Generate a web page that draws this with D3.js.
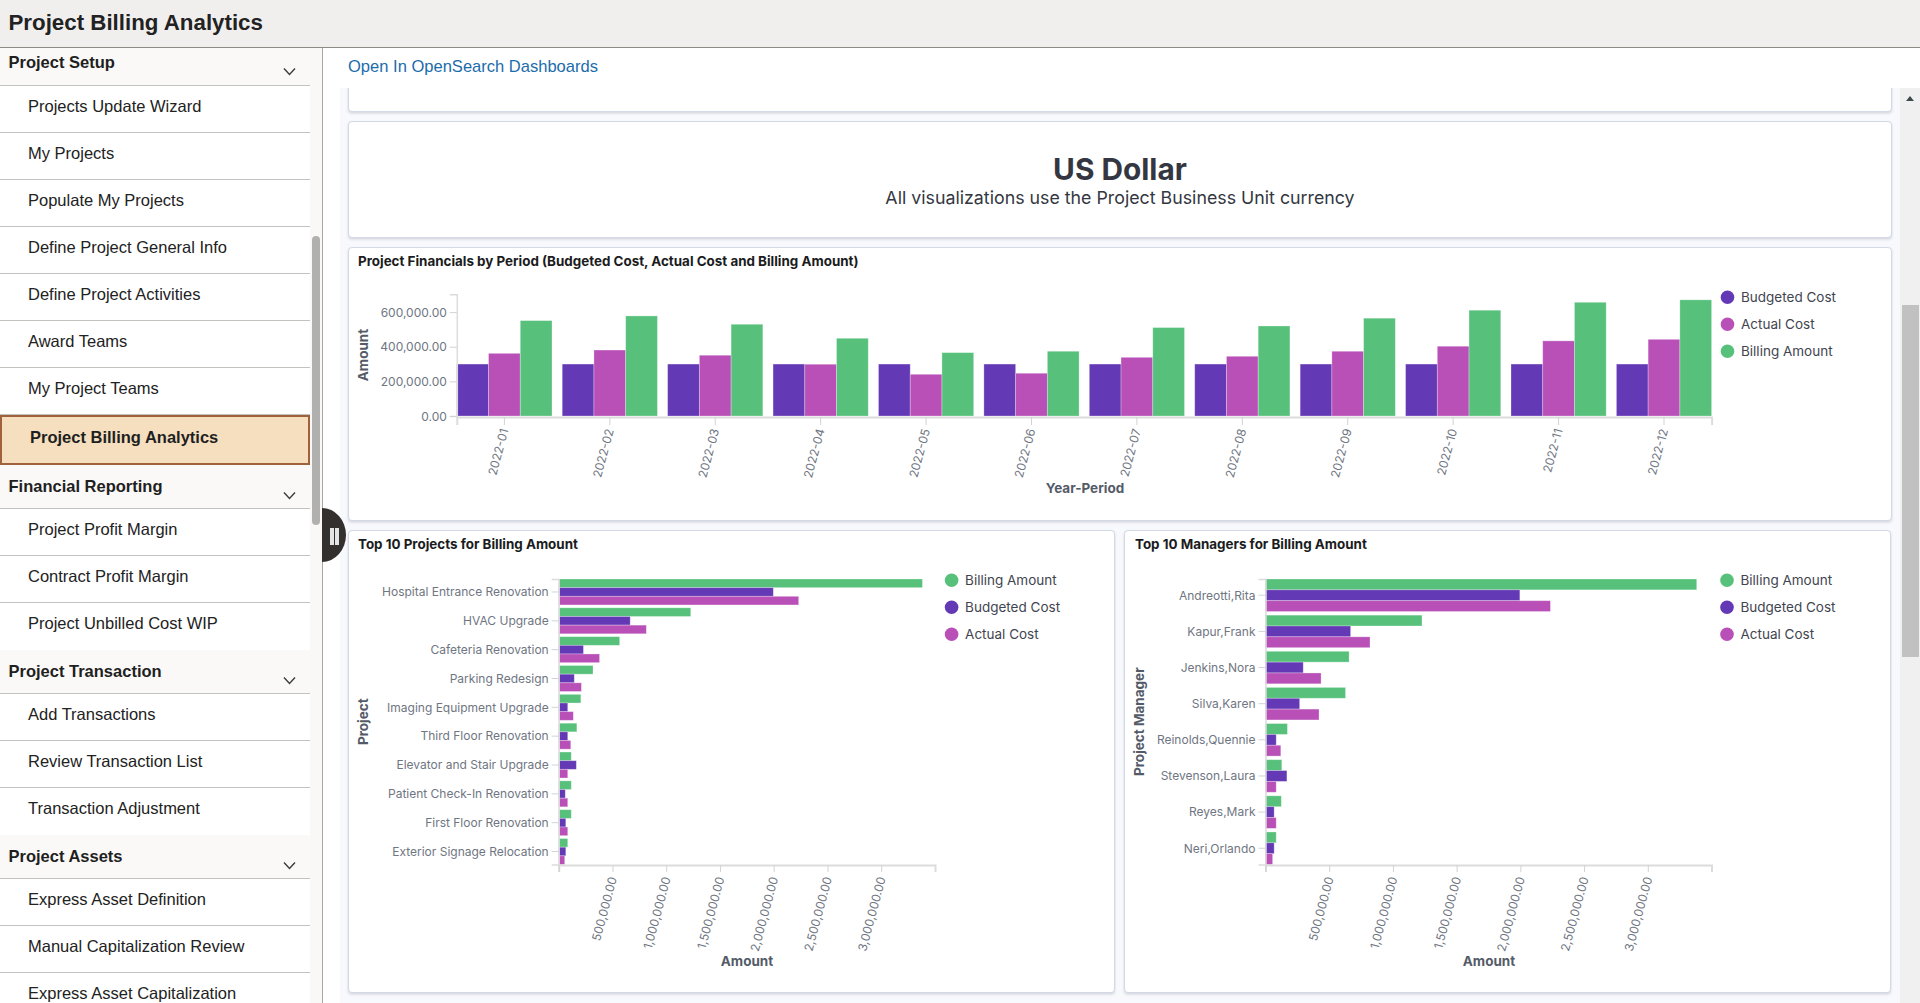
<!DOCTYPE html>
<html>
<head>
<meta charset="utf-8">
<title>Project Billing Analytics</title>
<script src="https://cdnjs.cloudflare.com/ajax/libs/d3/7.8.5/d3.min.js"></script>
<style>
*{box-sizing:border-box}
html,body{margin:0;padding:0;width:1920px;height:1003px;overflow:hidden;background:#fff;font-family:"Liberation Sans",Arial,sans-serif}
#header{position:absolute;left:0;top:0;width:1920px;height:48px;background:#f0efee;border-bottom:1px solid #8c8b86;font-weight:700;font-size:22.3px;line-height:45px;padding-left:8.5px;color:#222}
#track{position:absolute;left:310px;top:48px;width:12px;height:955px;background:#f9f8f6}
#nav{position:absolute;left:0;top:48px;width:310px;height:955px;overflow:hidden;background:#fff}
.sec{height:44px;background:#faf9f7;border-bottom:1px solid #c4c2bf;font-weight:700;font-size:16.5px;padding:12px 0 0 8.5px;color:#1f1f1f;position:relative}
.sec.first{height:38px;padding-top:5px}
.sec svg{position:absolute;left:282px;top:26px}
.sec.first svg{top:19px}
.item{height:47px;border-bottom:1px solid #c4c2bf;font-size:16.5px;padding:11px 0 0 28px;color:#222}
.item.last{border-bottom:none}
.item.sel{height:50px;background:#f5dfbf;border:2px solid #a0623c;font-weight:700;padding:11px 0 0 28px;color:#1f1f1f}
#navRule{position:absolute;left:322px;top:48px;width:1px;height:955px;background:#a9a7a3;z-index:3}
#navThumb{position:absolute;left:312px;top:236px;width:8px;height:289px;background:#b0b0ae;border-radius:4px}
#toggle{position:absolute;left:322px;top:508px;width:24px;height:54px;background:#33302e;border-radius:0 24px 24px 0 / 0 27px 27px 0;z-index:4}
#toggle i{position:absolute;top:19.5px;width:3.5px;height:17.5px;background:#e4e4e4}
#link{position:absolute;left:348px;top:57px;font-size:16.55px;color:#1b6cab;z-index:2}
#content{position:absolute;left:340px;top:88px;width:1560px;height:915px;background:#f8f9fc}
#sb{position:absolute;left:1900px;top:88px;width:20px;height:915px;background:#f0f0f0}
#sbThumb{position:absolute;left:1902px;top:305px;width:17px;height:352px;background:#c1c1c1}
#sbArrow{position:absolute;left:1906px;top:96px;width:0;height:0;border-left:4.5px solid transparent;border-right:4.5px solid transparent;border-bottom:5px solid #3d4a4a}
.panel{position:absolute;background:#fff;border:1px solid #d3dae6;border-radius:4px;box-shadow:0 1px 2px rgba(152,162,179,.25),0 2px 3px rgba(152,162,179,.18)}
#chart{position:absolute;left:0;top:0;pointer-events:none}
#chart text{font-family:Inter,sans-serif}
</style>
</head>
<body>
<div id="header">Project Billing Analytics</div>
<div id="track"></div>
<div id="nav"></div>
<div id="navRule"></div>
<div id="navThumb"></div>
<div id="toggle"><i style="left:8px"></i><i style="left:13.2px"></i></div>
<div id="link">Open In OpenSearch Dashboards</div>
<div id="content"></div>
<div id="sb"></div><div id="sbThumb"></div><div id="sbArrow"></div>
<div id="panels"></div>
<svg id="chart" width="1920" height="1003"></svg>
<script>
// ---------- data ----------
const navSections = ["Project Setup","Financial Reporting","Project Transaction","Project Assets"];
const navSetup = ["Projects Update Wizard","My Projects","Populate My Projects","Define Project General Info","Define Project Activities","Award Teams","My Project Teams","Project Billing Analytics"];
const navReporting = ["Project Profit Margin","Contract Profit Margin","Project Unbilled Cost WIP"];
const navTransaction = ["Add Transactions","Review Transaction List","Transaction Adjustment"];
const navAssets = ["Express Asset Definition","Manual Capitalization Review","Express Asset Capitalization"];

const periods = ["2022-01","2022-02","2022-03","2022-04","2022-05","2022-06","2022-07","2022-08","2022-09","2022-10","2022-11","2022-12"];
const periodBudgeted = [300000,300000,300000,300000,300000,300000,300000,300000,300000,300000,300000,300000];
const periodActual   = [362000,381000,351000,299000,241000,247000,339000,345000,374000,403000,434000,443000];
const periodBilling  = [551000,578000,530000,449000,366000,374000,511000,520000,565000,611000,657000,671000];
const periodTicks = [0,200000,400000,600000];

const projects = ["Hospital Entrance Renovation","HVAC Upgrade","Cafeteria Renovation","Parking Redesign","Imaging Equipment Upgrade","Third Floor Renovation","Elevator and Stair Upgrade","Patient Check-In Renovation","First Floor Renovation","Exterior Signage Relocation"];
const projectBilling  = [3383000,1228000,567000,319000,206000,169000,117000,117000,117000,84000];
const projectBudgeted = [1996000,665000,230000,145000,84000,84000,164000,61000,66000,66000];
const projectActual   = [2232000,815000,380000,211000,136000,112000,84000,84000,84000,56000];

const managers = ["Andreotti,Rita","Kapur,Frank","Jenkins,Nora","Silva,Karen","Reinolds,Quennie","Stevenson,Laura","Reyes,Mark","Neri,Orlando"];
const managerBilling  = [3384000,1228000,656000,628000,172000,128000,124000,84000];
const managerBudgeted = [1996000,668000,296000,268000,84000,168000,68000,68000];
const managerActual   = [2236000,820000,436000,420000,120000,84000,84000,56000];

const amountTicks = [0,500000,1000000,1500000,2000000,2500000,3000000];
const purple="#6439b5", magenta="#b950b8", green="#57c17b";
const inkAxis="#dcdcdc", inkTick="#d2d3d6", inkLabel="#6f7682", inkTitle="#545b68", inkLegend="#3f4550", inkHead="#1a1c21";

// ---------- side navigation ----------
const nav=d3.select("#nav");
const chevron='<svg width="15" height="9" viewBox="0 0 15 9"><path d="M2 1.5 L7.5 7.5 L13 1.5" fill="none" stroke="#3c3c3c" stroke-width="1.4"/></svg>';
function navGroup(title,items,first){
  nav.append("div").attr("class","sec"+(first?" first":"")).html(title+chevron);
  items.forEach((t,i)=>{
    const selected=t==="Project Billing Analytics";
    nav.append("div").attr("class","item"+(selected?" sel":"")+(i===items.length-1&&!selected?" last":"")).text(t);
  });
}
navGroup(navSections[0],navSetup,true);
navGroup(navSections[1],navReporting);
navGroup(navSections[2],navTransaction);
navGroup(navSections[3],navAssets);

// ---------- panels ----------
const panelBoxes=[[348,60,1544,52],[348,121,1544,117],[348,247,1544,274],[348,530,767,463],[1124,530,767,463]];
d3.select("#panels").selectAll("div").data(panelBoxes).join("div").attr("class","panel")
  .style("left",d=>d[0]+"px").style("top",d=>d[1]+"px").style("width",d=>d[2]+"px").style("height",d=>d[3]+"px");
// the cut-off panel is hidden under the top strip
d3.select("#panels").append("div").style("position","absolute").style("left","340px").style("top","48px").style("width","1560px").style("height","40px").style("background","#fff");

const svg=d3.select("#chart");
const txt=(x,y,s,size,weight,fill,anchor,rot)=>{
  const t=svg.append("text").attr("x",x).attr("y",y).attr("dy",".35em").text(s)
    .attr("font-size",size).attr("font-weight",weight).attr("fill",fill).attr("text-anchor",anchor||"start");
  if(rot) t.attr("transform",`rotate(${rot} ${x} ${y})`);
  return t;
};
txt(1120,169.5,"US Dollar",29.8,700,"#343741","middle");
txt(1120,198,"All visualizations use the Project Business Unit currency",17.8,400,"#343741","middle");
txt(358,261,"Project Financials by Period (Budgeted Cost, Actual Cost and Billing Amount)",13.4,700,inkHead);
txt(358,544,"Top 10 Projects for Billing Amount",13.4,700,inkHead);
txt(1135,544,"Top 10 Managers for Billing Amount",13.4,700,inkHead);

function legend(x,entries,y0){
  entries.forEach((e,i)=>{
    const y=y0+i*27;
    svg.append("circle").attr("cx",x).attr("cy",y).attr("r",6.8).attr("fill",e[1]);
    txt(x+13.5,y,e[0],13.5,400,inkLegend);
  });
}
function styleAxis(g,domainWidth){
  g.select(".domain").attr("stroke",inkAxis).attr("stroke-width",domainWidth);
  g.selectAll(".tick line").attr("stroke",inkTick);
  g.selectAll("text").attr("fill",inkLabel).attr("font-size",12);
}
function rotateLabels(g){
  g.selectAll(".tick text").attr("x",0).attr("y",0).attr("dy",".35em").attr("text-anchor","end")
    .attr("transform","translate(0,12) rotate(-75)").attr("font-size",12);
}
function barEdges(sel){
  return sel.attr("stroke","#fff").attr("stroke-opacity",.35).attr("stroke-width",.8);
}

// ---------- period chart ----------
(function(){
  const x=d3.scaleBand().domain(periods).range([456.8,1711.6]).paddingInner(0.097).paddingOuter(0);
  const y=d3.scaleLinear().domain([0,703000]).range([416,294.3]);
  const sub=d3.scaleBand().domain([0,1,2]).range([0,x.bandwidth()]);
  const series=[[periodBudgeted,purple],[periodActual,magenta],[periodBilling,green]];
  series.forEach((s,i)=>{
    barEdges(svg.append("g").selectAll("rect").data(periods).join("rect")
      .attr("x",d=>x(d)+sub(i)).attr("width",sub.bandwidth())
      .attr("y",(d,k)=>y(s[0][k])).attr("height",(d,k)=>y(0)-y(s[0][k])).attr("fill",s[1]));
  });
  const ay=svg.append("g").attr("transform","translate(456.8,0)").call(d3.axisLeft(y).tickValues(periodTicks).tickFormat(d3.format(",.2f")).tickSize(7));
  styleAxis(ay,1.5);
  ay.selectAll("text").attr("dy",".35em");
  const ax=svg.append("g").attr("transform","translate(0,417)").call(d3.axisBottom(x).tickSize(8));
  styleAxis(ax,2); rotateLabels(ax);
  txt(363,355,"Amount",13.5,700,inkTitle,"middle",-90);
  txt(1085,488,"Year-Period",13.5,700,inkTitle,"middle");
  legend(1727.5,[["Budgeted Cost",purple],["Actual Cost",magenta],["Billing Amount",green]],297.3);
})();

// ---------- top-10 charts ----------
function topChart(cats,billing,budgeted,actual,x0,x1,axisTitle,titleX,amountX,legendX){
  const y=d3.scaleBand().domain(cats).range([579,864.5]).paddingInner(0.1).paddingOuter(0);
  const x=d3.scaleLinear().domain([0,3500000]).range([x0,x1]);
  const sub=d3.scaleBand().domain([0,1,2]).range([0,y.bandwidth()]);
  [[billing,green],[budgeted,purple],[actual,magenta]].forEach((s,i)=>{
    barEdges(svg.append("g").selectAll("rect").data(cats).join("rect")
      .attr("x",x0).attr("y",d=>y(d)+sub(i)).attr("height",sub.bandwidth())
      .attr("width",(d,k)=>x(s[0][k])-x0).attr("fill",s[1]));
  });
  const ay=svg.append("g").attr("transform",`translate(${x0},0)`).call(d3.axisLeft(y).tickSize(7));
  styleAxis(ay,1.5);
  ay.selectAll("text").attr("x",-10).attr("dy",".36em");
  const ax=svg.append("g").attr("transform","translate(0,865)").call(d3.axisBottom(x).tickValues(amountTicks).tickFormat(d=>d===0?"":d3.format(",.2f")(d)).tickSize(7));
  styleAxis(ax,2); rotateLabels(ax);
  txt(titleX,721.7,axisTitle,13.5,700,inkTitle,"middle",-90);
  txt(amountX,961,"Amount",13.5,700,inkTitle,"middle");
  legend(legendX,[["Billing Amount",green],["Budgeted Cost",purple],["Actual Cost",magenta]],580.3);
}
topChart(projects,projectBilling,projectBudgeted,projectActual,558.7,935,"Project",363.5,747,951.6);
topChart(managers,managerBilling,managerBudgeted,managerActual,1265.5,1711.5,"Project Manager",1139.5,1489,1727);
</script>
</body>
</html>
